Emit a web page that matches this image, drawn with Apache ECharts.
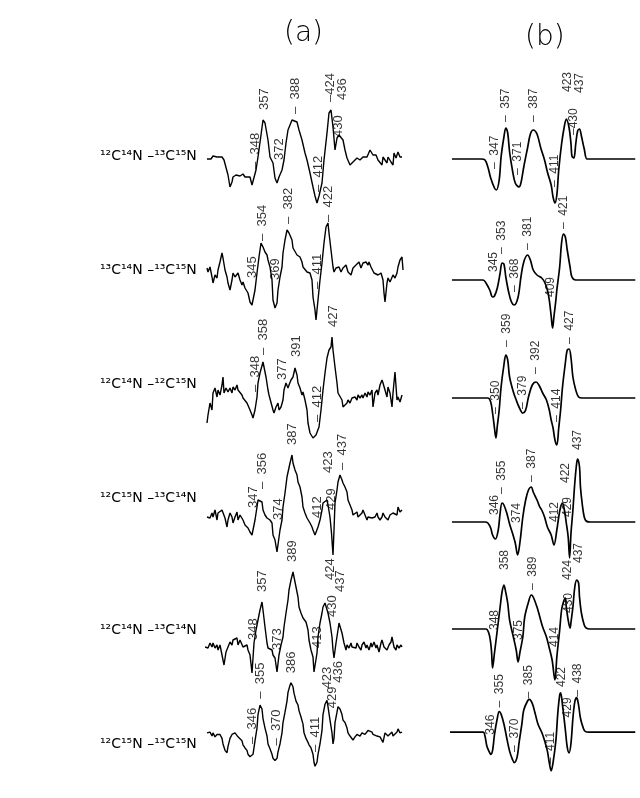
<!DOCTYPE html>
<html><head><meta charset="utf-8">
<script src="https://cdn.jsdelivr.net/npm/echarts@6/dist/echarts.min.js"></script>
<style>html,body{margin:0;padding:0;background:#fff}#c{width:640px;height:798px}</style>
</head><body><div id="c"></div>
<script>
// Row names (isotope pairs)
const rowNames = ['¹²C¹⁴N –¹³C¹⁵N','¹³C¹⁴N –¹³C¹⁵N','¹²C¹⁴N –¹²C¹⁵N','¹²C¹⁵N –¹³C¹⁴N','¹²C¹⁴N –¹³C¹⁴N','¹²C¹⁵N –¹³C¹⁵N'];
const panelTitles = ['(a)','(b)'];

// Column (a): observed difference spectra [wavenumber, signal]
const a1 = [[301,-1],[303,1],[305,-1],[307,2],[309,0],[311,1],[313,-1],[316,1],[318,-2],[320,-4],[322,-17],[324,-29],[326,-24],[327,-19],[330,-17],[332,-15],[334,-18],[337,-16],[339,-19],[341,-17],[344,-19],[346,-27],[348,-29],[350,-12],[352,1],[355,23],[357,38],[359,35],[362,18],[364,1],[367,-5],[369,-20],[371,-25],[373,-19],[376,-12],[378,-2],[380,15],[382,28],[386,38],[388,40],[391,36],[393,28],[396,18],[399,5],[401,-2],[404,-15],[407,-29],[409,-38],[411,-45],[413,-38],[416,-25],[418,-2],[421,25],[423,45],[425,48],[427,31],[429,8],[430,10],[431,20],[433,23],[435,24],[437,18],[439,8],[441,0],[444,-7],[447,-4],[449,-2],[451,0],[454,-2],[457,1],[459,-1],[461,1],[464,8],[466,6],[467,3],[470,3],[472,-2],[474,0],[476,-7],[477,1],[479,-2],[481,-5],[482,1],[485,-4],[487,-7],[488,5],[490,0],[492,6],[494,1],[496,1]];
const a2 = [[301,4],[302,0],[304,5],[306,-5],[307,-11],[309,-3],[311,-6],[312,2],[314,10],[316,19],[317,14],[319,2],[321,-5],[322,-11],[324,-18],[326,-8],[327,-1],[329,-5],[331,-6],[332,-1],[334,-8],[336,-13],[337,-10],[339,-16],[341,-16],[342,-21],[344,-30],[346,-33],[347,-31],[349,-18],[351,-1],[353,15],[355,29],[357,25],[359,20],[361,17],[362,12],[364,5],[366,-8],[367,-28],[369,-36],[371,-31],[372,-18],[374,-5],[376,5],[377,19],[379,32],[381,42],[383,39],[386,32],[387,24],[389,22],[391,17],[392,19],[394,15],[396,10],[397,5],[399,4],[401,0],[402,2],[404,-1],[406,-8],[407,-25],[409,-38],[410,-48],[412,-28],[414,-8],[416,9],[418,29],[420,45],[422,49],[423,39],[425,22],[427,5],[428,0],[430,4],[432,2],[433,5],[435,0],[437,4],[438,2],[440,7],[442,0],[443,2],[445,-3],[447,4],[448,2],[450,7],[452,5],[453,10],[455,4],[457,9],[458,7],[460,10],[462,7],[463,10],[465,5],[467,4],[468,-1],[470,0],[472,-3],[473,-5],[475,-1],[477,-8],[478,-21],[479,-30],[481,-11],[482,-6],[484,-10],[486,-8],[487,-3],[489,-6],[491,-1],[492,5],[494,12],[496,15],[497,2]];
const a3 = [[301,-26],[302,-18],[304,-6],[306,-13],[307,4],[309,9],[311,0],[312,7],[314,2],[316,12],[317,20],[318,4],[320,9],[322,5],[324,9],[326,4],[327,10],[329,7],[331,12],[332,7],[334,9],[336,2],[337,-1],[339,0],[341,-6],[342,-5],[344,-13],[346,-18],[347,-21],[349,-13],[351,0],[352,14],[354,24],[357,35],[358,30],[360,20],[362,7],[363,2],[365,0],[367,-13],[368,-16],[370,-10],[372,-6],[373,-13],[375,-10],[377,-3],[378,7],[380,14],[382,9],[383,12],[385,17],[387,20],[389,29],[391,22],[392,14],[394,9],[396,2],[397,5],[399,-3],[401,-13],[402,-26],[404,-36],[407,-41],[410,-38],[413,-30],[415,-13],[417,7],[419,24],[421,39],[423,47],[425,50],[426,60],[427,47],[429,30],[431,14],[432,4],[434,2],[436,-3],[437,-10],[439,-11],[441,-6],[442,-3],[444,-6],[446,-1],[447,-3],[449,0],[451,-3],[452,2],[454,-1],[456,2],[457,-1],[459,4],[461,0],[462,5],[464,2],[466,7],[467,-10],[469,4],[471,7],[472,2],[474,12],[476,17],[477,14],[479,7],[481,0],[482,10],[484,4],[486,-10],[487,4],[489,25],[491,-3],[492,0],[494,-5],[496,2]];
const a4 = [[301,0],[302,2],[304,-1],[306,4],[307,0],[309,7],[311,-3],[312,4],[314,2],[316,7],[317,5],[319,-1],[321,-10],[322,-3],[324,4],[326,0],[327,-6],[329,0],[331,5],[332,-3],[334,2],[336,4],[337,-3],[339,-8],[341,-6],[342,-11],[344,-15],[346,-18],[347,-20],[349,-3],[351,10],[352,17],[354,19],[356,15],[357,7],[359,2],[361,-1],[362,0],[364,-3],[366,-6],[367,-18],[369,-23],[371,-35],[374,-13],[376,-3],[377,10],[379,24],[381,40],[384,54],[386,62],[387,54],[389,47],[391,42],[392,35],[394,30],[396,20],[397,10],[399,4],[401,-1],[402,-3],[404,-6],[406,-10],[407,-13],[409,-18],[410,-20],[412,-10],[414,-3],[416,7],[417,14],[419,15],[421,17],[422,12],[424,0],[425.5,-16],[427,-38],[428,-13],[429,14],[431,27],[432,35],[434,42],[436,37],[437,34],[439,30],[441,25],[442,17],[444,12],[446,7],[447,2],[449,4],[451,5],[452,0],[454,2],[456,4],[457,7],[459,2],[461,-3],[462,0],[464,2],[466,-1],[467,0],[469,0],[471,4],[472,0],[474,-3],[476,0],[477,4],[479,0],[481,2],[482,-3],[484,2],[486,0],[487,4],[489,5],[491,2],[492,10],[494,5],[496,7]];
const a5 = [[299,0],[301,2],[302,-1],[304,4],[306,0],[307,4],[309,-1],[311,2],[312,-3],[314,2],[316,0],[318,-18],[320,-5],[322,0],[324,5],[326,2],[327,7],[329,5],[331,9],[332,2],[334,7],[336,9],[337,0],[339,-1],[341,2],[342,-3],[344,-8],[346,-26],[348,4],[350,17],[352,27],[354,37],[356,45],[357,37],[359,20],[361,4],[362,-1],[364,0],[366,-3],[367,-8],[369,-11],[371,-25],[373,-8],[375,2],[377,10],[378,20],[380,34],[382,47],[383,57],[385,67],[387,75],[388,70],[390,60],[392,50],[393,40],[395,34],[397,29],[398,30],[400,25],[402,17],[403,7],[405,-3],[407,-10],[408,-25],[411,-6],[412,10],[414,24],[416,34],[417,40],[419,44],[421,42],[422,34],[424,24],[426,10],[427,-3],[428,-11],[430,4],[432,17],[433,24],[435,22],[436,14],[438,4],[440,-3],[441,2],[443,-1],[445,4],[446,0],[448,2],[450,-1],[451,4],[453,0],[455,-3],[456,2],[458,5],[460,-1],[461,2],[463,-3],[465,4],[466,0],[468,5],[470,-1],[471,2],[473,-5],[475,4],[476,7],[478,0],[480,2],[481,-3],[483,2],[485,5],[486,10],[488,0],[490,-3],[491,2],[493,-1],[495,2],[496,0]];
const a6 = [[301,2],[302,0],[304,3],[306,-2],[307,2],[309,-3],[311,0],[312,-2],[314,0],[316,-5],[317,-12],[319,-20],[321,-23],[322,-15],[324,-5],[326,0],[327,-2],[329,2],[331,0],[332,-3],[334,-2],[336,-8],[337,-13],[339,-17],[341,-20],[342,-25],[344,-28],[346,-30],[347,-25],[349,-8],[351,8],[352,25],[354,37],[356,32],[357,20],[359,8],[361,-2],[362,-12],[364,-18],[366,-25],[367,-30],[369,-33],[371,-30],[372,-22],[374,-12],[376,2],[377,15],[379,28],[381,42],[382,53],[384,62],[385,65],[387,60],[388,52],[390,42],[392,37],[393,30],[395,22],[397,13],[398,2],[400,-5],[402,-10],[403,-13],[405,-17],[407,-25],[408,-35],[409,-40],[411,-35],[412,-25],[414,-12],[416,5],[417,25],[419,38],[421,43],[422,35],[424,18],[426,2],[427,-12],[428,-5],[429,15],[431,28],[432,35],[434,32],[436,25],[437,18],[439,15],[441,8],[442,2],[444,-2],[446,-3],[447,-7],[449,-3],[451,0],[452,2],[454,-2],[456,2],[457,3],[459,0],[461,2],[462,5],[464,7],[466,3],[467,0],[469,2],[471,-2],[472,0],[474,-3],[476,-2],[477,-10],[479,2],[481,0],[482,-2],[484,0],[486,3],[487,-2],[489,0],[491,3],[492,7],[494,2],[496,3]];

// Column (b): calculated difference spectra [wavenumber, signal]
const b1 = [[301,0],[332,0],[336,-1],[339,-8],[342,-19],[346,-29],[348,-31],[351,-21],[353,2],[356,22],[358,31],[360,26],[362,7],[365,-11],[368,-24],[372,-28],[374,-24],[377,-8],[381,11],[384,25],[387,29],[391,25],[395,11],[399,-1],[402,-13],[406,-26],[408,-38],[410,-44],[412,-36],[414,-11],[417,15],[420,33],[422,40],[425,31],[427,15],[428,3],[430,1],[432,15],[434,28],[436,30],[438,23],[441,10],[444,0],[449,0],[495,0]];
const b2 = [[301,0],[334,0],[337,-3],[341,-10],[344,-17],[346,-16],[349,-8],[352,7],[354,17],[356,16],[358,3],[361,-12],[364,-22],[367,-25],[371,-17],[374,3],[377,18],[381,25],[384,20],[387,10],[391,5],[396,2],[399,-2],[402,-10],[404,-20],[406,-36],[407.5,-48],[409,-36],[411,-20],[412,-10],[415,13],[417,37],[419,46],[421,43],[423,30],[426,13],[428,3],[432,0],[495,0]];
const b3 = [[301,0],[339,0],[342,-4],[344,-15],[346,-30],[347.5,-40],[349,-28],[351,-12],[353,11],[356,33],[358,43],[360,38],[362,21],[366,6],[369,-2],[372,-9],[376,-15],[379,-12],[382,1],[386,13],[390,16],[393,13],[397,5],[401,-2],[404,-12],[406,-22],[408,-30],[410,-42],[412,-47],[414,-30],[416,-12],[418,11],[421,35],[423,48],[425,49],[427,40],[429,21],[432,8],[435,1],[439,0],[495,0]];
const b4 = [[301,0],[336,0],[339,-1],[342,-6],[344,-13],[347,-17],[350,-8],[352,9],[354,19],[356,17],[359,9],[362,-2],[365,-11],[368,-21],[370.5,-33],[373,-20],[376,5],[379,22],[382,32],[385,35],[387,30],[391,22],[394,15],[396,12],[399,5],[402,-5],[406,-13],[409,-23],[412,-8],[414,5],[416,15],[418,19],[420,12],[422,-1],[424,-15],[425.5,-36],[427,-11],[429,12],[431,39],[433,59],[434,63],[436,55],[437,35],[439,17],[441,5],[443,1],[447,0],[495,0]];
const b5 = [[301,0],[337,0],[340,-4],[342,-14],[343,-24],[344,-39],[346,-24],[349,-1],[352,22],[354,37],[356,44],[357,41],[360,26],[362,9],[366,-8],[369,-21],[371,-33],[373,-23],[376,-8],[378,12],[382,27],[385,34],[387,32],[391,22],[394,12],[397,2],[401,-8],[404,-19],[407,-31],[410,-51],[412,-28],[415,-1],[417,19],[419,27],[421,31],[422,22],[424,9],[426,1],[427,7],[429,22],[431,42],[433,49],[435,46],[436,32],[438,16],[441,4],[443,1],[447,0],[495,0]];
const b6 = [[297,0],[334,0],[336,-5],[338,-17],[341,-25],[342,-27],[344,-22],[346,-3],[349,17],[351,25],[353,22],[356,10],[359,-7],[362,-23],[365,-33],[367,-37],[370,-30],[372,-13],[375,10],[377,27],[381,38],[383,40],[386,35],[389,23],[392,10],[396,0],[399,-10],[402,-23],[404,-37],[406,-47],[408,-37],[411,-10],[413,23],[415,45],[416,48],[418,33],[421,3],[423,-18],[425,-25],[427,-13],[429,17],[431,37],[433,42],[435,33],[437,17],[440,5],[442,1],[446,0],[495,0]];

// Peak annotations [wavenumber, signal at label foot, text]
const a1Labels = [[358,48,'357'],[389,44,'–  388'],[424,56,'–424'],[436,58,'436'],[432,21,'430'],[349,-11,'–  348'],[373,-2,'372'],[412,-34,'–  412']];
const a2Labels = [[356,31,'–  354'],[382,48,'–  382'],[422,50,'–  422'],[346,-6,'345'],[369,-8,'369'],[411,-17,'–  411']];
const a3Labels = [[357,42,'–  358'],[390,40,'391'],[427,70,'427'],[349,5,'–  348'],[376,17,'377'],[411,-25,'–  412']];
const a4Labels = [[356,28,'–  356'],[386,72,'387'],[422,44,'423'],[436,47,'–  437'],[347,9,'347'],[372,-3,'374'],[411,-1,'412'],[425,7,'429']];
const a5Labels = [[356,55,'357'],[386,85,'389'],[424,67,'424'],[434,55,'437'],[426,30,'430'],[347,7,'348'],[371,-3,'373'],[411,-1,'413']];
const a6Labels = [[354,45,'–  355'],[385,77,'386'],[421,58,'423'],[432,65,'436'],[426,33,'429'],[346,-12,'–  346'],[370,-14,'–  370'],[409,-22,'–  411']];
const b1Labels = [[358,37,'–  357'],[388,37,'–  387'],[424,67,'423'],[436,66,'437'],[430,24,'–430'],[346,-10,'–  347'],[371,-16,'–  371'],[410,-28,'–  411']];
const b2Labels = [[354,26,'–  353'],[381,30,'–  381'],[419,51,'–  421'],[345,8,'345'],[367,-12,'–  368'],[406,-17,'409']];
const b3Labels = [[359,51,'–  359'],[390,24,'–  392'],[426,54,'–  427'],[347,-16,'–  350'],[376,-11,'–  379'],[412,-24,'–  414']];
const b4Labels = [[354,28,'–  355'],[385,40,'–  387'],[421,39,'422'],[434,72,'437'],[346,7,'346'],[370,-1,'374'],[410,0,'412'],[424,5,'429']];
const b5Labels = [[357,59,'358'],[386,39,'–  389'],[423,49,'424'],[435,66,'437'],[425,16,'430'],[346,-1,'348'],[372,-11,'375'],[410,-18,'414']];
const b6Labels = [[352,30,'–  355'],[382,41,'–  385'],[417,55,'422'],[434,43,'–  438'],[342,-3,'346'],[367,-24,'–  370'],[406,-39,'–  411'],[424,18,'429']];

const tracesA = [a1,a2,a3,a4,a5,a6];
const tracesB = [b1,b2,b3,b4,b5,b6];
const labelsA = [a1Labels,a2Labels,a3Labels,a4Labels,a5Labels,a6Labels];
const labelsB = [b1Labels,b2Labels,b3Labels,b4Labels,b5Labels,b6Labels];

// Layout (pixels)
const baseA = [158,272,397,517,647,755];
const baseB = [159,280,398,522,629,750];
const rowLabelY = [158,272,386,500,632,746];
const colLeft = [206,451];
const Y_TOP = 100, Y_BOT = -80;

const grids = [], xAxes = [], yAxes = [], series = [];
function addPanel(data, labels, left, base, smooth, fs) {
  const i = grids.length;
  grids.push({left: left, width: 200, top: base - Y_TOP, height: Y_TOP - Y_BOT});
  xAxes.push({type:'value', gridIndex:i, min:300, max:500, show:false});
  yAxes.push({type:'value', gridIndex:i, min:Y_BOT, max:Y_TOP, show:false});
  series.push({type:'line', xAxisIndex:i, yAxisIndex:i, data:data, showSymbol:false, symbol:'none',
    smooth: smooth, lineStyle:{color:'#000', width: smooth ? 1.7 : 1.4}, silent:true, clip:false});
  series.push({type:'scatter', xAxisIndex:i, yAxisIndex:i, symbolSize:1, itemStyle:{color:'rgba(0,0,0,0)'}, silent:true,
    data: labels.map(l => ({value:[l[0], l[1]], name:l[2]})),
    label:{show:true, position:'inside', rotate:90, align:'left', verticalAlign:'middle',
      fontFamily:'Liberation Sans', fontSize:fs, color:'#000', formatter: p => p.name}});
}
for (let r = 0; r < 6; r++) {
  addPanel(tracesA[r], labelsA[r], colLeft[0], baseA[r], false, 13);
  addPanel(tracesB[r], labelsB[r], colLeft[1], baseB[r], 0.35, 12);
}
const graphic = [];
rowNames.forEach((t, r) => graphic.push({type:'text', left:100, top:rowLabelY[r]-9,
  style:{text:t, font:'14px "DejaVu Sans"', fill:'#000'}}));
graphic.push({type:'text', left:284, top:20, style:{text:panelTitles[0], font:'300 28px "DejaVu Sans"', fill:'#000'}});
graphic.push({type:'text', left:525, top:24, style:{text:panelTitles[1], font:'300 28px "DejaVu Sans"', fill:'#000'}});

const chart = echarts.init(document.getElementById('c'));
chart.setOption({animation:false, backgroundColor:'#fff', grid:grids, xAxis:xAxes, yAxis:yAxes, series:series, graphic:graphic});
</script></body></html>
